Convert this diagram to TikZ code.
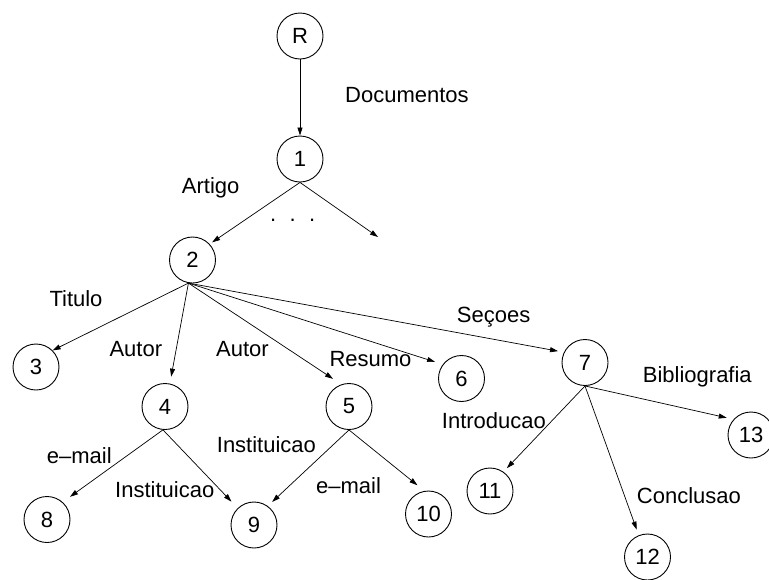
\documentclass[tikz,border=0pt]{standalone}
\usepackage{fontspec}
\setmainfont{Liberation Sans}
\usetikzlibrary{arrows.meta}
\begin{document}
\begin{tikzpicture}[x=1pt,y=-1pt,
  every node/.style={font=\fontsize{22}{26}\selectfont},
  vert/.style={circle,draw,line width=0.9pt,minimum size=46pt,inner sep=0pt},
  lbl/.style={anchor=base west,inner sep=0pt},
  arr/.style={-{Triangle[length=8pt,width=5pt]},line width=0.7pt}]
\useasboundingbox (0,0) rectangle (769,579);
% vertices
\node[vert] (R)   at (300,36)    {R};
\node[vert] (n1)  at (300,159)   {1};
\node[vert] (n2)  at (192.5,260) {2};
\node[vert] (n3)  at (36,367)    {3};
\node[vert] (n4)  at (165,406.5) {4};
\node[vert] (n5)  at (349,406.5) {5};
\node[vert] (n6)  at (461.5,378.5) {6};
\node[vert] (n7)  at (585,362.5) {7};
\node[vert] (n8)  at (47,519.5)  {8};
\node[vert] (n9)  at (254,525)   {9};
\node[vert] (n10) at (428.5,514) {10};
\node[vert] (n11) at (490,491)   {11};
\node[vert] (n12) at (647.5,557) {12};
\node[vert] (n13) at (751,435)   {13};
\coordinate (e1) at (378,237);
% edges
\draw[arr] (R) -- (n1);
\draw[arr,shorten >=3pt] (n1.south) -- (n2.43);
\draw[arr] (n1.south) -- (e1);
\draw[arr] (n2.260) -- (n3.45);
\draw[arr,shorten >=7pt] (n2.260) -- (n4.78);
\draw[arr,shorten >=10pt] (n2.260) -- (n5.109);
\draw[arr,shorten >=8pt] (n2.260) -- (n6.143);
\draw[arr,shorten >=6pt] (n2.260) -- (n7.154);
\draw[arr,shorten >=9pt] (n4.265) -- (n8.48);
\draw[arr,shorten >=9pt] (n4.265) -- (n9.134);
\draw[arr,shorten >=6pt] (n5.south) -- (n9.54);
\draw[arr,shorten >=9pt] (n5.south) -- (n10.100);
\draw[arr,shorten >=5pt] (n7.south) -- (n11.55);
\draw[arr,shorten >=6pt] (n7.south) -- (n12.112);
\draw[arr,shorten >=7pt] (n7.south) -- (n13.138);
% labels
\node[lbl] (lDoc) at (345,102.7) {Documentos};
\node[lbl] (lArt) at (181.7,193) {Artigo};
\node[lbl] (dots) at (270,221.5) {.\hspace{13.4pt}.\hspace{13.4pt}.};
\node[lbl] (lTit) at (49.3,306) {Titulo};
\node[lbl] (lAu1) at (109.3,356.7) {Autor};
\node[lbl] (lAu2) at (216,356.7) {Autor};
\node[lbl] (lRes) at (329.3,366.5) {Resumo};
\node[lbl] (lSec) at (456.7,322.5) {Seçoes};
\node[lbl] (lBib) at (642.7,382.4) {Bibliografia};
\node[lbl] (lInt) at (441.7,428.5) {Introducao};
\node[lbl] (lIn1) at (216.7,452) {Instituicao};
\node[lbl] (lEm1) at (46.7,463) {e–mail};
\node[lbl] (lIn2) at (115,497.5) {Instituicao};
\node[lbl] (lEm2) at (316,493) {e–mail};
\node[lbl] (lCon) at (636.7,503) {Conclusao};
\end{tikzpicture}
\end{document}
